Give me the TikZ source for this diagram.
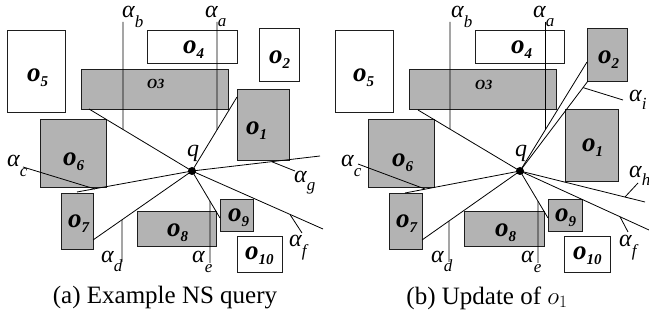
\documentclass[tikz,border=0pt]{standalone}
\usepackage{fontspec}
\setmainfont{Liberation Serif}
\definecolor{objgray}{RGB}{179,179,179}
\definecolor{edge}{RGB}{30,30,30}
\newcommand\objl[1]{{\fontsize{27}{27}\selectfont\bfseries\itshape o\raisebox{-5pt}{\fontsize{15}{15}\selectfont #1}}}
\newcommand\alab[2]{{\fontsize{24}{24}\selectfont\itshape α\raisebox{-#2pt}{\fontsize{17}{17}\selectfont #1}}}
\begin{document}
\begin{tikzpicture}[x=1pt,y=-1pt,
  obj/.style={draw=edge, line width=0.9pt},
  gobj/.style={obj, fill=objgray},
  ray/.style={line width=0.8pt, black},
  lbl/.style={anchor=base west, inner sep=0pt},
  qdot/.style={circle, fill=black, inner sep=0pt, minimum size=8pt},
  captext/.style={inner sep=0pt, font=\fontsize{25}{30}\selectfont}]
\useasboundingbox (0,0) rectangle (649,320);
% ================= left panel =================
\draw[obj]  (7,30) rectangle (65,112);
\draw[obj]  (147,30) rectangle (237,63);
\draw[obj]  (259,28) rectangle (299,81);
\draw[gobj] (81,69) rectangle (228,109);
\draw[gobj] (237,89) rectangle (289,160);
\draw[gobj] (40,119) rectangle (106,187);
\draw[gobj] (61,193) rectangle (93,249);
\draw[gobj] (137,211) rectangle (216,246);
\draw[gobj] (220,199) rectangle (253,231);
\draw[obj]  (237,236) rectangle (282,272);
\node[lbl] (L5) at (27,82) {\objl{5}};
\node[lbl] (L4) at (183,54) {\objl{4}};
\node[lbl] (L2) at (269,64) {\objl{2}};
\node[lbl] (L3) at (147,89) {\fontsize{14}{14}\selectfont\bfseries\itshape O3};
\node[lbl] (L1) at (246,135) {\objl{1}};
\node[lbl] (L6) at (63,166) {\objl{6}};
\node[lbl] (L7) at (68,228) {\objl{7}};
\node[lbl] (L8) at (167,237) {\objl{8}};
\node[lbl] (L9) at (228,222) {\objl{9}};
\node[lbl] (L10) at (245,260) {\objl{10}};
\coordinate (qa) at (192,171);
\coordinate (a1) at (89,109);
\coordinate (a2) at (237,97);
\coordinate (a3) at (77,192);
\coordinate (a4) at (93,240);
\coordinate (a5) at (220,218);
\coordinate (a6) at (323,229);
\coordinate (a7) at (320,156);
\foreach \e in {a1,a2,a3,a4,a5,a6,a7} \draw[ray] (qa) -- (\e);
\coordinate (vb1) at (123,22);  \coordinate (vb2) at (123,300);
\coordinate (va1) at (217,22);  \coordinate (va2) at (217,300);
\coordinate (vd1) at (122,262); \coordinate (vd2) at (122,0);
\coordinate (ve1) at (210,263); \coordinate (ve2) at (210,0);
\draw[ray] (vb1) -- (intersection of qa--a1 and vb1--vb2);
\draw[ray] (va1) -- (intersection of qa--a2 and va1--va2);
\draw[ray] (vd1) -- (intersection of qa--a4 and vd1--vd2);
\draw[ray] (ve1) -- (intersection of qa--a5 and ve1--ve2);
\coordinate (lc1) at (23,167);  \coordinate (lc2) at (95,189);
\coordinate (lf1) at (302,233); \coordinate (lf2) at (290,214.5);
\coordinate (lg1) at (295,171); \coordinate (lg2) at (272,161.8);
\draw[ray] (lc1) -- (lc2);
\draw[ray] (lf1) -- (lf2);
\draw[ray] (lg1) -- (lg2);
\node[qdot] (qda) at (qa) {};
\node[anchor=base, inner sep=0pt, font=\fontsize{24}{24}\selectfont\itshape] (qla) at (193,157) {q};
\node[lbl] (Ab)  at (122,18)  {\alab{b}{10}};
\node[lbl] (Aa)  at (205,18)  {\alab{a}{9}};
\node[lbl] (Ac)  at (7,167)   {\alab{c}{10}};
\node[lbl] (Ad)  at (101,263) {\alab{d}{9}};
\node[lbl] (Ae)  at (192,263) {\alab{e}{10}};
\node[lbl] (Af)  at (289,247) {\alab{f}{10}};
\node[lbl] (Ag)  at (294,183) {\alab{g}{8}};
\node[captext] (capa) at (165,298) {(a) Example NS query};
% ================= right panel =================
\draw[obj]  (335,30) rectangle (393,112);
\draw[obj]  (475,30) rectangle (564,63);
\draw[gobj] (587,28) rectangle (627,81);
\draw[gobj] (409,69) rectangle (556,109);
\draw[gobj] (565,109) rectangle (618,181);
\draw[gobj] (368,119) rectangle (434,187);
\draw[gobj] (389,193) rectangle (422,249);
\draw[gobj] (464,211) rectangle (544,246);
\draw[gobj] (548,199) rectangle (582,231);
\draw[obj]  (564,236) rectangle (610,272);
\node[lbl] (R5) at (353,82) {\objl{5}};
\node[lbl] (R4) at (511,54) {\objl{4}};
\node[lbl] (R2) at (598,64) {\objl{2}};
\node[lbl] (R3) at (475,90) {\fontsize{14}{14}\selectfont\bfseries\itshape O3};
\node[lbl] (R1) at (582,152) {\objl{1}};
\node[lbl] (R6) at (392,167) {\objl{6}};
\node[lbl] (R7) at (396,228) {\objl{7}};
\node[lbl] (R8) at (495,237) {\objl{8}};
\node[lbl] (R9) at (555,222) {\objl{9}};
\node[lbl] (R10) at (573,260) {\objl{10}};
\coordinate (qb) at (520,171);
\coordinate (b1) at (418,110);
\coordinate (b2) at (587,62);
\coordinate (b3) at (588,81);
\coordinate (b4) at (405,193);
\coordinate (b5) at (422,240);
\coordinate (b6) at (548,218);
\coordinate (b7) at (649,230);
\coordinate (b8) at (645,202);
\foreach \e in {b1,b2,b3,b4,b5,b6,b7,b8} \draw[ray] (qb) -- (\e);
\coordinate (wb1) at (450,22);  \coordinate (wb2) at (450,300);
\coordinate (wa1) at (545,22);  \coordinate (wa2) at (545,300);
\coordinate (wd1) at (449,262); \coordinate (wd2) at (449,0);
\coordinate (we1) at (538,263); \coordinate (we2) at (538,0);
\draw[ray] (wb1) -- (intersection of qb--b1 and wb1--wb2);
\draw[ray] (wa1) -- (intersection of qb--b2 and wa1--wa2);
\draw[ray] (wd1) -- (intersection of qb--b5 and wd1--wd2);
\draw[ray] (we1) -- (intersection of qb--b6 and we1--we2);
\coordinate (mc1) at (358,164); \coordinate (mc2) at (425,189);
\coordinate (mi1) at (623,100); \coordinate (mi2) at (583,87.6);
\coordinate (mf1) at (628,232); \coordinate (mf2) at (620,216.7);
\coordinate (mh1) at (638,183); \coordinate (mh2) at (625,197);
\draw[ray] (mc1) -- (mc2);
\draw[ray] (mi1) -- (mi2);
\draw[ray] (mf1) -- (mf2);
\draw[ray] (mh1) -- (mh2);
\node[qdot] (qdb) at (qb) {};
\node[anchor=base, inner sep=0pt, font=\fontsize{24}{24}\selectfont\itshape] (qlb) at (521,157) {q};
\node[lbl] (Bb)  at (451,18)  {\alab{b}{10}};
\node[lbl] (Ba)  at (533,18)  {\alab{a}{9}};
\node[lbl] (Bc)  at (341,167) {\alab{c}{10}};
\node[lbl] (Bd)  at (431,263) {\alab{d}{9}};
\node[lbl] (Be)  at (521,263) {\alab{e}{10}};
\node[lbl] (Bf)  at (619,247) {\alab{f}{10}};
\node[lbl] (Bh)  at (629,178) {\alab{h}{8}};
\node[lbl] (Bi)  at (629,102) {\alab{i}{8}};
\node[captext] (capb) at (487,298) {(b) Update of $o_1$};
\end{tikzpicture}
\end{document}
